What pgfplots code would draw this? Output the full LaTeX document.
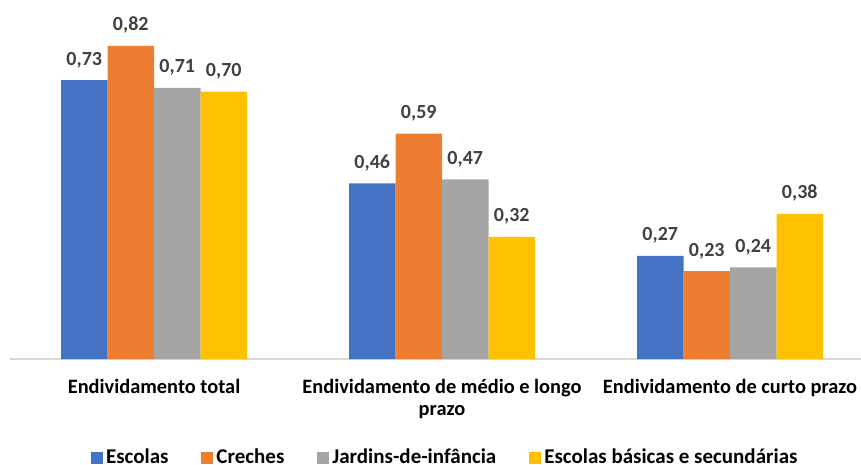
\documentclass[border=0pt]{standalone}
\usepackage{pgfplots}
\pgfplotsset{compat=1.18}
\usepackage{fontspec}
\setmainfont{Carlito}

\definecolor{cBlue}{HTML}{4472C4}
\definecolor{cOrange}{HTML}{ED7D31}
\definecolor{cGray}{HTML}{A5A5A5}
\definecolor{cYellow}{HTML}{FFC000}
\definecolor{cLabel}{HTML}{404040}
\definecolor{cAxis}{HTML}{D9D9D9}

\newcommand{\lstrut}{\rule{0pt}{8pt}}

\begin{document}
\begin{tikzpicture}
\useasboundingbox (0,0) rectangle (430.5pt,232.5pt);
\begin{axis}[
  at={(5pt,53pt)}, anchor=south west,
  x=144pt, y=191pt,
  xmin=-0.5, xmax=2.455, ymin=0, ymax=0.94,
  ybar=0pt, bar width=23.25pt,
  axis y line=none,
  axis x line*=bottom,
  x axis line style={draw=cAxis, line width=0.6pt, -},
  major tick length=0pt,
  xtick={0,1,2},
  xticklabels={\lstrut Endividamento total, \lstrut Endividamento de médio e longo\\prazo, \lstrut Endividamento de curto prazo},
  xticklabel style={font=\fontsize{10.2}{11}\selectfont\bfseries, align=center,
    anchor=north, inner sep=0pt, yshift=-9pt},
  /pgf/number format/.cd, fixed, fixed zerofill, precision=2, use comma, assume math mode=true,
  /pgfplots/.cd,
  nodes near coords,
  every node near coord/.append style={font=\fontsize{10}{11}\selectfont\bfseries,
    text=cLabel, anchor=base, inner sep=0pt, yshift=7.5pt},
  legend columns=4,
  legend style={draw=none, fill=none, at={(0.512,-0.276)}, anchor=center,
    font=\fontsize{10.5}{11}\selectfont\bfseries,
    /tikz/every even column/.append style={column sep=15pt},
    nodes={inner sep=1.5pt}},
  legend image code/.code={\fill[#1] (0pt,-3pt) rectangle (6pt,3pt);},
]
\addplot[fill=cBlue, draw=none] coordinates {(0,0.73) (1,0.46) (2,0.27)};
\addplot[fill=cOrange, draw=none] coordinates {(0,0.82) (1,0.59) (2,0.23)};
\addplot[fill=cGray, draw=none] coordinates {(0,0.71) (1,0.47) (2,0.24)};
\addplot[fill=cYellow, draw=none] coordinates {(0,0.70) (1,0.32) (2,0.38)};
\legend{Escolas, Creches, Jardins-de-infância\hspace{11pt}, Escolas básicas e secundárias}
\end{axis}
\end{tikzpicture}
\end{document}
